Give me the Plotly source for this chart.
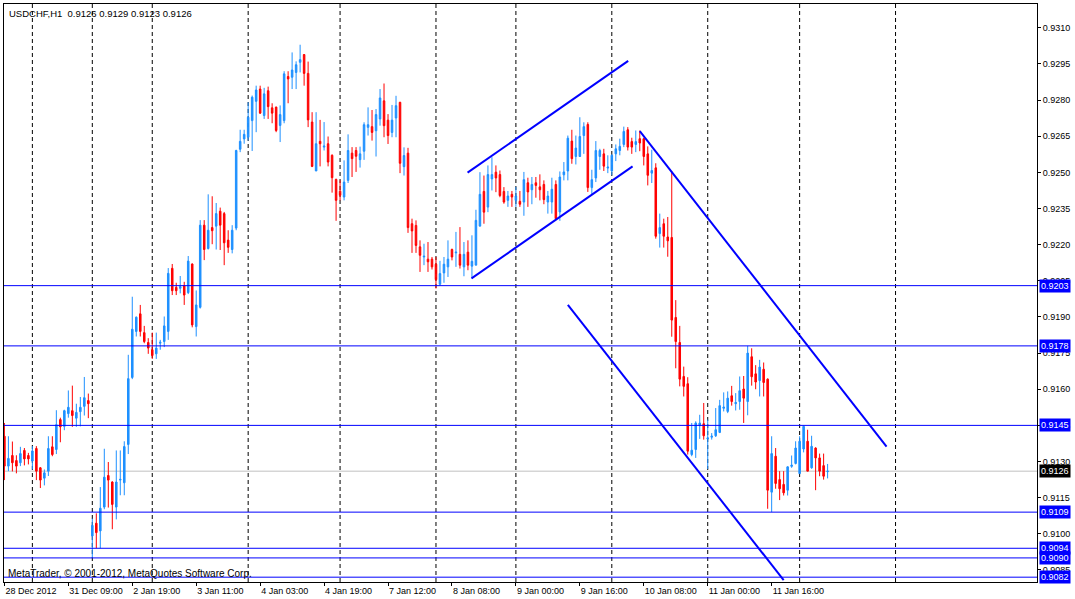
import plotly.graph_objects as go

# USDCHF H1 bars (bar index 0 = 28 Dec 2012 17:00)
opens = [0.91405, 0.91281, 0.91325, 0.91304, 0.91295, 0.91346, 0.91325, 0.91302, 0.91354, 0.91274,
         0.91231, 0.91260, 0.91361, 0.91350, 0.91474, 0.91446, 0.91499, 0.91511, 0.91480, 0.91507,
         0.91529, 0.91553, 0.90991, 0.91044, 0.91012, 0.91111, 0.91242, 0.91215, 0.91111, 0.91223,
         0.91212, 0.91371, 0.91649, 0.91840, 0.91913, 0.91835, 0.91794, 0.91764, 0.91747, 0.91791,
         0.91798, 0.91840, 0.92102, 0.92023, 0.92019, 0.92030, 0.92001, 0.92120, 0.91860, 0.91940,
         0.92281, 0.92184, 0.92271, 0.92277, 0.92339, 0.92329, 0.92219, 0.92180, 0.92269, 0.92596,
         0.92639, 0.92646, 0.92715, 0.92795, 0.92846, 0.92736, 0.92839, 0.92768, 0.92771, 0.92695,
         0.92715, 0.92898, 0.92895, 0.92915, 0.92957, 0.92989, 0.92911, 0.92709, 0.92506, 0.92629,
         0.92605, 0.92619, 0.92571, 0.92471, 0.92422, 0.92398, 0.92467, 0.92580, 0.92591, 0.92553,
         0.92588, 0.92687, 0.92690, 0.92673, 0.92722, 0.92797, 0.92717, 0.92666, 0.92726, 0.92791,
         0.92524, 0.92580, 0.92287, 0.92280, 0.92191, 0.92149, 0.92140, 0.92140, 0.92119, 0.92036,
         0.92083, 0.92108, 0.92180, 0.92166, 0.92160, 0.92108, 0.92169, 0.92111, 0.92115, 0.92277,
         0.92421, 0.92356, 0.92473, 0.92501, 0.92491, 0.92421, 0.92384, 0.92409, 0.92384, 0.92380,
         0.92377, 0.92457, 0.92428, 0.92457, 0.92440, 0.92450, 0.92377, 0.92377, 0.92450, 0.92336,
         0.92490, 0.92506, 0.92630, 0.92566, 0.92566, 0.92653, 0.92699, 0.92437, 0.92477, 0.92566,
         0.92577, 0.92518, 0.92506, 0.92577, 0.92591, 0.92616, 0.92677, 0.92628, 0.92616, 0.92640,
         0.92640, 0.92577, 0.92497, 0.92519, 0.92246, 0.92287, 0.92232, 0.92230, 0.91898, 0.91794,
         0.91653, 0.91623, 0.91329, 0.91350, 0.91449, 0.91457, 0.91394, 0.91401, 0.91407, 0.91421,
         0.91521, 0.91508, 0.91573, 0.91540, 0.91549, 0.91601, 0.91549, 0.91735, 0.91664, 0.91636,
         0.91683, 0.91642, 0.91173, 0.91322, 0.91225, 0.91205, 0.91181, 0.91280, 0.91292, 0.91250,
         0.91352, 0.91384, 0.91274, 0.91356, 0.91315, 0.91283, 0.91258]

highs = [0.91460, 0.91405, 0.91383, 0.91326, 0.91361, 0.91356, 0.91336, 0.91364, 0.91364, 0.91277,
         0.91267, 0.91405, 0.91405, 0.91513, 0.91482, 0.91515, 0.91595, 0.91615, 0.91540, 0.91568,
         0.91651, 0.91582, 0.91063, 0.91085, 0.91194, 0.91353, 0.91298, 0.91218, 0.91346, 0.91346,
         0.91384, 0.91743, 0.91984, 0.91902, 0.91950, 0.91863, 0.91812, 0.91835, 0.91835, 0.91805,
         0.91902, 0.92103, 0.92120, 0.92042, 0.92070, 0.92046, 0.92153, 0.92122, 0.92010, 0.92302,
         0.92302, 0.92409, 0.92401, 0.92373, 0.92354, 0.92336, 0.92260, 0.92281, 0.92594, 0.92677,
         0.92677, 0.92791, 0.92819, 0.92860, 0.92860, 0.92851, 0.92856, 0.92787, 0.92773, 0.92778,
         0.92920, 0.92920, 0.92998, 0.92961, 0.93030, 0.92991, 0.92960, 0.92750, 0.92750, 0.92718,
         0.92709, 0.92649, 0.92575, 0.92474, 0.92467, 0.92550, 0.92658, 0.92605, 0.92605, 0.92607,
         0.92708, 0.92770, 0.92759, 0.92763, 0.92846, 0.92869, 0.92742, 0.92780, 0.92818, 0.92793,
         0.92604, 0.92602, 0.92308, 0.92301, 0.92218, 0.92204, 0.92211, 0.92149, 0.92149, 0.92133,
         0.92149, 0.92218, 0.92184, 0.92253, 0.92273, 0.92211, 0.92218, 0.92239, 0.92345, 0.92501,
         0.92487, 0.92529, 0.92563, 0.92529, 0.92508, 0.92439, 0.92423, 0.92423, 0.92440, 0.92423,
         0.92502, 0.92478, 0.92481, 0.92481, 0.92492, 0.92467, 0.92423, 0.92478, 0.92467, 0.92504,
         0.92543, 0.92653, 0.92677, 0.92653, 0.92729, 0.92708, 0.92708, 0.92511, 0.92630, 0.92598,
         0.92598, 0.92571, 0.92575, 0.92616, 0.92640, 0.92690, 0.92688, 0.92644, 0.92674, 0.92674,
         0.92644, 0.92608, 0.92594, 0.92538, 0.92329, 0.92308, 0.92315, 0.92505, 0.91970, 0.91863,
         0.91694, 0.91650, 0.91460, 0.91467, 0.91494, 0.91543, 0.91474, 0.91418, 0.91522, 0.91556,
         0.91587, 0.91591, 0.91614, 0.91584, 0.91653, 0.91655, 0.91780, 0.91770, 0.91700, 0.91722,
         0.91711, 0.91645, 0.91405, 0.91356, 0.91260, 0.91260, 0.91280, 0.91325, 0.91384, 0.91405,
         0.91449, 0.91432, 0.91407, 0.91359, 0.91333, 0.91333, 0.91290]

lows = [0.91223, 0.91260, 0.91259, 0.91251, 0.91281, 0.91284, 0.91288, 0.91267, 0.91223, 0.91190,
        0.91201, 0.91240, 0.91322, 0.91331, 0.91380, 0.91430, 0.91482, 0.91444, 0.91444, 0.91446,
        0.91491, 0.91480, 0.90900, 0.90940, 0.90940, 0.91102, 0.91109, 0.91019, 0.91060, 0.91160,
        0.91160, 0.91331, 0.91642, 0.91819, 0.91819, 0.91791, 0.91747, 0.91726, 0.91726, 0.91764,
        0.91775, 0.91805, 0.91991, 0.91991, 0.91998, 0.91950, 0.91995, 0.91857, 0.91819, 0.91935,
        0.92136, 0.92180, 0.92202, 0.92180, 0.92178, 0.92115, 0.92166, 0.92164, 0.92260, 0.92584,
        0.92619, 0.92633, 0.92589, 0.92667, 0.92743, 0.92722, 0.92722, 0.92704, 0.92667, 0.92626,
        0.92704, 0.92787, 0.92846, 0.92846, 0.92915, 0.92860, 0.92688, 0.92522, 0.92506, 0.92525,
        0.92591, 0.92525, 0.92416, 0.92299, 0.92384, 0.92384, 0.92456, 0.92481, 0.92502, 0.92520,
        0.92552, 0.92653, 0.92632, 0.92566, 0.92694, 0.92646, 0.92618, 0.92646, 0.92646, 0.92497,
        0.92487, 0.92249, 0.92166, 0.92166, 0.92087, 0.92115, 0.92087, 0.92097, 0.92018, 0.92030,
        0.92042, 0.92066, 0.92135, 0.92108, 0.92101, 0.92069, 0.92094, 0.92059, 0.92115, 0.92277,
        0.92287, 0.92335, 0.92425, 0.92418, 0.92397, 0.92370, 0.92357, 0.92357, 0.92357, 0.92357,
        0.92320, 0.92357, 0.92368, 0.92395, 0.92384, 0.92368, 0.92329, 0.92329, 0.92302, 0.92299,
        0.92467, 0.92467, 0.92536, 0.92533, 0.92564, 0.92577, 0.92419, 0.92409, 0.92460, 0.92511,
        0.92506, 0.92497, 0.92488, 0.92547, 0.92571, 0.92605, 0.92591, 0.92577, 0.92584, 0.92588,
        0.92529, 0.92446, 0.92456, 0.92225, 0.92188, 0.92188, 0.92150, 0.91818, 0.91687, 0.91612,
        0.91570, 0.91329, 0.91322, 0.91315, 0.91394, 0.91391, 0.91269, 0.91391, 0.91402, 0.91418,
        0.91508, 0.91501, 0.91532, 0.91512, 0.91515, 0.91460, 0.91492, 0.91615, 0.91600, 0.91570,
        0.91570, 0.91104, 0.91090, 0.91187, 0.91140, 0.91159, 0.91159, 0.91274, 0.91288, 0.91250,
        0.91338, 0.91260, 0.91270, 0.91181, 0.91239, 0.91225, 0.91230]

closes = [0.91281, 0.91313, 0.91295, 0.91281, 0.91333, 0.91311, 0.91311, 0.91344, 0.91260, 0.91223,
          0.91253, 0.91354, 0.91329, 0.91453, 0.91444, 0.91511, 0.91525, 0.91491, 0.91504, 0.91525,
          0.91565, 0.91540, 0.91035, 0.91005, 0.91106, 0.91235, 0.91223, 0.91122, 0.91215, 0.91226,
          0.91362, 0.91644, 0.91849, 0.91899, 0.91840, 0.91798, 0.91771, 0.91740, 0.91771, 0.91795,
          0.91863, 0.92081, 0.92009, 0.92009, 0.92026, 0.91991, 0.92132, 0.91867, 0.91950, 0.92281,
          0.92180, 0.92260, 0.92258, 0.92329, 0.92281, 0.92208, 0.92189, 0.92260, 0.92591, 0.92629,
          0.92658, 0.92729, 0.92812, 0.92842, 0.92746, 0.92826, 0.92773, 0.92746, 0.92674, 0.92740,
          0.92909, 0.92888, 0.92925, 0.92947, 0.92968, 0.92911, 0.92718, 0.92525, 0.92619, 0.92619,
          0.92609, 0.92543, 0.92478, 0.92384, 0.92405, 0.92460, 0.92591, 0.92557, 0.92567, 0.92577,
          0.92698, 0.92698, 0.92666, 0.92740, 0.92809, 0.92694, 0.92653, 0.92717, 0.92777, 0.92538,
          0.92570, 0.92271, 0.92257, 0.92197, 0.92156, 0.92152, 0.92129, 0.92108, 0.92055, 0.92080,
          0.92119, 0.92140, 0.92149, 0.92169, 0.92115, 0.92160, 0.92115, 0.92131, 0.92301, 0.92409,
          0.92335, 0.92491, 0.92491, 0.92477, 0.92404, 0.92377, 0.92402, 0.92398, 0.92402, 0.92368,
          0.92470, 0.92419, 0.92450, 0.92446, 0.92428, 0.92387, 0.92402, 0.92430, 0.92308, 0.92481,
          0.92502, 0.92642, 0.92557, 0.92601, 0.92649, 0.92690, 0.92437, 0.92470, 0.92591, 0.92591,
          0.92526, 0.92522, 0.92571, 0.92598, 0.92608, 0.92670, 0.92605, 0.92605, 0.92628, 0.92622,
          0.92566, 0.92488, 0.92508, 0.92235, 0.92271, 0.92235, 0.92216, 0.91887, 0.91798, 0.91642,
          0.91612, 0.91343, 0.91347, 0.91460, 0.91460, 0.91407, 0.91398, 0.91405, 0.91432, 0.91532,
          0.91526, 0.91563, 0.91549, 0.91545, 0.91594, 0.91563, 0.91750, 0.91652, 0.91630, 0.91692,
          0.91628, 0.91181, 0.91333, 0.91209, 0.91187, 0.91170, 0.91278, 0.91285, 0.91356, 0.91384,
          0.91446, 0.91260, 0.91363, 0.91315, 0.91260, 0.91239, 0.91260]

# bottom time labels, one every 16 bars
time_tick_bars = [0, 16, 32, 48, 64, 80, 96, 112, 128, 144, 160, 176, 192]
time_tick_text = ["28 Dec 2012", "31 Dec 09:00", "2 Jan 19:00", "3 Jan 11:00", "4 Jan 03:00",
                  "4 Jan 19:00", "7 Jan 12:00", "8 Jan 08:00", "9 Jan 00:00", "9 Jan 16:00",
                  "10 Jan 08:00", "11 Jan 00:00", "11 Jan 16:00"]

# first bar of each day (period separators)
day_start_bars = [7, 22, 37, 61, 84, 108, 128, 152, 176, 199, 223]

price_ticks = [0.9310, 0.9295, 0.9280, 0.9265, 0.9250, 0.9235, 0.9220, 0.9205,
               0.9190, 0.9175, 0.9160, 0.9145, 0.9130, 0.9115, 0.9100, 0.9085]

# horizontal support/resistance levels
levels = [0.9203, 0.9178, 0.9145, 0.9109, 0.9094, 0.9090, 0.9082]
bid = 0.9126

# trend lines: (bar, price) -> (bar, price)
trend_lines = [
    ((115.9, 0.92499), (156.1, 0.92963)),
    ((116.9, 0.92060), (157.2, 0.92525)),
    ((159.0, 0.92671), (220.75, 0.91362)),
    ((141.0, 0.91950), (195.0, 0.90808)),
]

title_text = "USDCHF,H1  0.9126 0.9129 0.9123 0.9126"
copyright_text = "MetaTrader, © 2001-2012, MetaQuotes Software Corp."

FONT = "Liberation Sans"
BLUE = "#0000FF"
UP = "#1E90FF"
DOWN = "#FF0000"

fig = go.Figure()
fig.add_trace(go.Candlestick(
    x=list(range(len(opens))), open=opens, high=highs, low=lows, close=closes,
    increasing=dict(line=dict(color=UP, width=1), fillcolor=UP),
    decreasing=dict(line=dict(color=DOWN, width=1), fillcolor=DOWN),
    whiskerwidth=0, hoverinfo="skip", showlegend=False,
))

shapes = []
for b in day_start_bars:
    shapes.append(dict(type="line", xref="x", yref="paper", x0=b, x1=b, y0=0, y1=1,
                       line=dict(color="black", width=1, dash="4px,3px"), layer="below"))
shapes.append(dict(type="line", xref="paper", yref="y", x0=0, x1=1, y0=bid, y1=bid,
                   line=dict(color="#C0C0C0", width=1), layer="below"))
for lv in levels:
    shapes.append(dict(type="line", xref="paper", yref="y", x0=0, x1=1, y0=lv, y1=lv,
                       line=dict(color=BLUE, width=1), layer="above"))
for (xa, ya), (xb, yb) in trend_lines:
    shapes.append(dict(type="line", xref="x", yref="y", x0=xa, y0=ya, x1=xb, y1=yb,
                       line=dict(color=BLUE, width=2), layer="above"))

annotations = []
for lv in levels:
    annotations.append(dict(xref="paper", yref="y", x=1, y=lv, xshift=2, xanchor="left",
                            yanchor="middle", text="%.4f" % lv, showarrow=False,
                            bgcolor=BLUE, borderpad=1,
                            font=dict(family=FONT, size=9, color="white")))
annotations.append(dict(xref="paper", yref="y", x=1, y=bid, xshift=2, xanchor="left",
                        yanchor="middle", text="%.4f" % bid, showarrow=False,
                        bgcolor="black", borderpad=1,
                        font=dict(family=FONT, size=9, color="white")))
annotations.append(dict(xref="paper", yref="paper", x=0, y=1, xshift=3, yshift=-2,
                        xanchor="left", yanchor="top", text=title_text, showarrow=False,
                        font=dict(family=FONT, size=9.5, color="black")))
annotations.append(dict(xref="paper", yref="paper", x=0, y=0, xshift=2, yshift=1,
                        xanchor="left", yanchor="bottom", text=copyright_text, showarrow=False,
                        font=dict(family=FONT, size=10, color="black")))

fig.update_layout(
    width=1075, height=599,
    margin=dict(l=3, r=38, t=3, b=16),
    paper_bgcolor="white", plot_bgcolor="white",
    font=dict(family=FONT, size=9, color="black"),
    boxgap=0.45,
    shapes=shapes, annotations=annotations,
    xaxis=dict(range=[-0.1, 258.4], rangeslider=dict(visible=False),
               tickmode="array", tickvals=time_tick_bars, ticktext=time_tick_text,
               ticks="outside", ticklen=3, tickcolor="black",
               ticklabelposition="outside right",
               showline=True, linecolor="black", linewidth=1, mirror=True,
               showgrid=False, zeroline=False, fixedrange=True),
    yaxis=dict(range=[0.90800, 0.93199], side="right",
               tickmode="array", tickvals=price_ticks,
               ticktext=["%.4f" % p for p in price_ticks],
               ticks="outside", ticklen=3, tickcolor="black",
               showline=True, linecolor="black", linewidth=1, mirror=True,
               showgrid=False, zeroline=False, fixedrange=True),
)

# page body margin would otherwise push the chart 8px right and down
fig.write_html("out.html", config={"displayModeBar": False},
               post_script="document.body.style.margin='0';")
